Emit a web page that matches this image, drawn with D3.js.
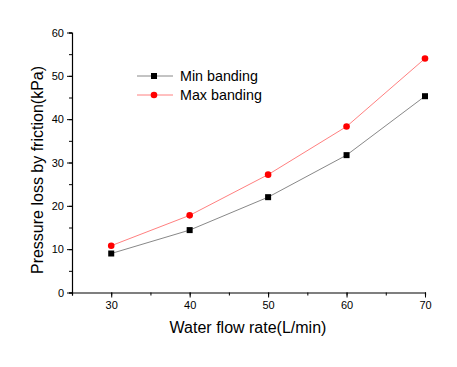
<!DOCTYPE html>
<html><head><meta charset="utf-8">
<script src="https://cdn.jsdelivr.net/npm/d3@7"></script>
<style>body{margin:0;background:#fff}svg{display:block;font-family:"Liberation Sans",Arial,sans-serif}</style>
</head><body>
<svg id="c" width="457" height="367"></svg>
<script>
const flowRates = [30, 40, 50, 60, 70];
const minBanding = [9.0, 14.4, 22.0, 31.7, 45.3];
const maxBanding = [10.8, 17.8, 27.2, 38.3, 54.0];
const xTicks = [30, 40, 50, 60, 70];
const yTicks = [0, 10, 20, 30, 40, 50, 60];

const svg = d3.select("#c");
const x = d3.scaleLinear().domain([25, 70]).range([72, 425]);
const y = d3.scaleLinear().domain([0, 60]).range([292.5, 32.5]);

// minor ticks
const gx = svg.append("g").attr("transform", `translate(0,${y(0)})`);
gx.call(d3.axisBottom(x).tickValues(d3.range(25, 71, 5)).tickSize(3).tickFormat(""));
gx.append("g").call(d3.axisBottom(x).tickValues(xTicks).tickSize(5).tickPadding(4));
const gy = svg.append("g").attr("transform", `translate(${x(25)},0)`);
gy.call(d3.axisLeft(y).tickValues(d3.range(0, 61, 5)).tickSize(3).tickFormat(""));
gy.append("g").call(d3.axisLeft(y).tickValues(yTicks).tickSize(5).tickPadding(3));
svg.selectAll(".domain").attr("stroke", "#000").attr("stroke-width", 1.2);
svg.selectAll(".tick line").attr("stroke", "#000");
svg.selectAll(".tick text").attr("font-size", 11).attr("fill", "#000").attr("font-family", "Liberation Sans, Arial, sans-serif");
gx.selectAll("g g path.domain").remove();
gy.selectAll("g g path.domain").remove();

const line = d3.line().x((d,i)=>x(flowRates[i])).y(d=>y(d));
svg.append("path").datum(minBanding).attr("d", line).attr("fill","none").attr("stroke","#888").attr("stroke-width",1);
svg.append("path").datum(maxBanding).attr("d", line).attr("fill","none").attr("stroke","#ff8080").attr("stroke-width",1);
svg.selectAll(".sq").data(minBanding).enter().append("rect")
  .attr("x",(d,i)=>x(flowRates[i])-3).attr("y",d=>y(d)-3).attr("width",6).attr("height",6).attr("fill","#000");
svg.selectAll(".ci").data(maxBanding).enter().append("circle")
  .attr("cx",(d,i)=>x(flowRates[i])).attr("cy",d=>y(d)).attr("r",3.3).attr("fill","#ff0000");

// legend
const lg = svg.append("g");
lg.append("line").attr("x1",137).attr("x2",173).attr("y1",76).attr("y2",76).attr("stroke","#888");
lg.append("rect").attr("x",151).attr("y",73).attr("width",6).attr("height",6).attr("fill","#000");
lg.append("text").attr("x",180).attr("y",81).attr("font-size",14.3).text("Min banding");
lg.append("line").attr("x1",137).attr("x2",173).attr("y1",95).attr("y2",95).attr("stroke","#ff8080");
lg.append("circle").attr("cx",154).attr("cy",95).attr("r",3.3).attr("fill","#ff0000");
lg.append("text").attr("x",180).attr("y",100).attr("font-size",14.3).text("Max banding");

svg.append("text").attr("x",248).attr("y",333).attr("text-anchor","middle").attr("font-size",16).text("Water flow rate(L/min)");
svg.append("text").attr("transform","translate(43,170) rotate(-90)").attr("text-anchor","middle").attr("font-size",16).text("Pressure loss by friction(kPa)");
</script>
</body></html>
